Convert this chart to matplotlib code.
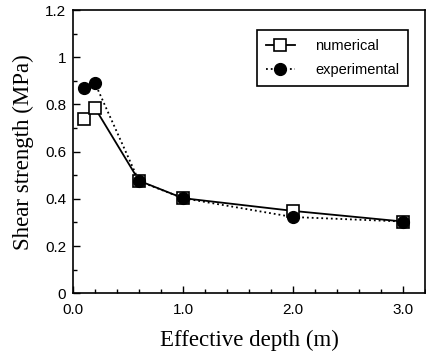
import matplotlib
matplotlib.use("Agg")
import matplotlib.pyplot as plt
from matplotlib.ticker import MultipleLocator

# values
depth = [0.1, 0.2, 0.6, 1.0, 2.0, 3.0]
numerical = [0.74, 0.785, 0.477, 0.403, 0.349, 0.304]
experimental = [0.872, 0.89, 0.475, 0.403, 0.323, 0.304]

x_ticks = [0.0, 1.0, 2.0, 3.0]
x_labels = ['0.0', '1.0', '2.0', '3.0']
y_ticks = [0, 0.2, 0.4, 0.6, 0.8, 1.0, 1.2]
y_labels = ['0', '0.2', '0.4', '0.6', '0.8', '1', '1.2']

fig = plt.figure(figsize=(4.27, 3.62), dpi=100)
ax = fig.add_axes([0.171, 0.19, 0.824, 0.782])

ax.plot(depth, numerical, color='black', linestyle='-', linewidth=1.3,
        marker='s', markersize=8, markerfacecolor='white',
        markeredgecolor='black', markeredgewidth=1.2, label='numerical', zorder=2)
ax.plot(depth, experimental, color='black', linestyle=':', linewidth=1.3,
        marker='o', markersize=8.5, markerfacecolor='black',
        markeredgecolor='black', label='experimental', zorder=3)

ax.set_xlim(0, 3.2)
ax.set_ylim(0, 1.2)
ax.set_xticks(x_ticks)
ax.set_xticklabels(x_labels)
ax.set_yticks(y_ticks)
ax.set_yticklabels(y_labels)
ax.xaxis.set_minor_locator(MultipleLocator(0.2))
ax.yaxis.set_minor_locator(MultipleLocator(0.1))
ax.tick_params(which='both', direction='in', width=1, labelsize=11)
ax.tick_params(which='major', length=5)
ax.tick_params(axis='x', which='major', pad=7)
ax.tick_params(axis='y', which='major', pad=5)
ax.tick_params(which='minor', length=3)
for lab in ax.get_xticklabels() + ax.get_yticklabels():
    lab.set_family('Liberation Sans')
for s in ax.spines.values():
    s.set_linewidth(1.2)

ax.set_xlabel('Effective depth (m)', family='Liberation Serif', fontsize=16.5, labelpad=9)
ax.set_ylabel('Shear strength (MPa)', family='Liberation Serif', fontsize=16.5, labelpad=8)

leg = ax.legend(loc='upper right', bbox_to_anchor=(0.952, 0.929), borderaxespad=0,
                prop={'family': 'Liberation Sans', 'size': 10.5},
                fancybox=False, edgecolor='black', framealpha=1,
                handlelength=2.0, handletextpad=1.4, borderpad=0.6, labelspacing=0.7)
leg.get_frame().set_linewidth(1.2)

plt.savefig('out.png', dpi=100)
